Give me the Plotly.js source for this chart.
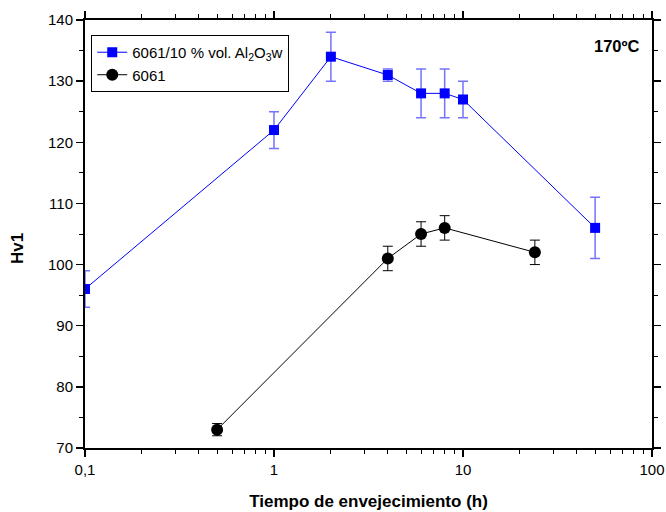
<!DOCTYPE html>
<html>
<head>
<meta charset="utf-8">
<script src="https://cdn.plot.ly/plotly-3.0.1.min.js"></script>
<style>
  html, body { margin: 0; padding: 0; background: #fff; }
  #chart { width: 666px; height: 512px; }
</style>
</head>
<body>
<div id="chart"></div>
<script>
// Aging time (h) and Vickers hardness for the composite and the base alloy
const compositeName = '6061/10 % vol. Al<sub>2</sub>O<sub>3</sub>w';
const compositeTime = [0.1, 1, 2, 4, 6, 8, 10, 50];
const compositeHv   = [96, 122, 134, 131, 128, 128, 127, 106];
const compositeErr  = [3, 3, 4, 1, 4, 4, 3, 5];

const alloyName = '6061';
const alloyTime = [0.5, 4, 6, 8, 24];
const alloyHv   = [73, 101, 105, 106, 102];
const alloyErr  = [1, 2, 2, 2, 2];

const xTickVals = [0.1, 1, 10, 100];
const xTickText = ['0,1', '1', '10', '100'];
const xMinorVals = [0.2, 0.3, 0.4, 0.5, 0.6, 0.7, 0.8, 0.9,
                    2, 3, 4, 5, 6, 7, 8, 9,
                    20, 30, 40, 50, 60, 70, 80, 90];
const yTickVals = [70, 80, 90, 100, 110, 120, 130, 140];

const FONT = 'Arial, "Liberation Sans", sans-serif';

const traces = [
  {
    name: compositeName,
    x: compositeTime, y: compositeHv,
    type: 'scatter', mode: 'lines+markers',
    line: { color: '#0000ff', width: 1 },
    marker: { symbol: 'square', size: 10, color: '#0000ff' },
    error_y: { type: 'data', array: compositeErr, visible: true,
               color: 'rgba(40,40,255,0.65)', thickness: 1.5, width: 5 }
  },
  {
    name: alloyName,
    x: alloyTime, y: alloyHv,
    type: 'scatter', mode: 'lines+markers',
    line: { color: '#000000', width: 1 },
    marker: { symbol: 'circle', size: 12, color: '#000000' },
    error_y: { type: 'data', array: alloyErr, visible: true,
               color: '#000000', thickness: 1, width: 5 }
  }
];

const layout = {
  width: 666, height: 512,
  margin: { l: 85, r: 14, t: 20, b: 64 },
  paper_bgcolor: '#ffffff', plot_bgcolor: '#ffffff',
  font: { family: FONT, size: 15, color: '#000' },
  showlegend: true,
  legend: {
    x: 0.011, y: 0.965, xanchor: 'left', yanchor: 'top',
    bgcolor: '#ffffff', bordercolor: '#000', borderwidth: 1,
    font: { family: FONT, size: 15, color: '#000' },
    tracegroupgap: 0
  },
  xaxis: {
    type: 'log', range: [-1, 2],
    tickmode: 'array', tickvals: xTickVals, ticktext: xTickText,
    ticks: 'outside', ticklen: 7, tickwidth: 1.5, tickcolor: '#000',
    minor: { tickvals: xMinorVals, ticks: 'outside', ticklen: 4, tickwidth: 1, tickcolor: '#000', showgrid: false },
    showline: true, linewidth: 2, linecolor: '#000', mirror: 'allticks',
    showgrid: false, zeroline: false,
    tickfont: { family: FONT, size: 15 },
    title: { text: '<b>Tiempo de envejecimiento (h)</b>', font: { family: FONT, size: 17 }, standoff: 18 }
  },
  yaxis: {
    range: [70, 140],
    tickmode: 'array', tickvals: yTickVals,
    ticks: 'outside', ticklen: 7, tickwidth: 1.5, tickcolor: '#000',
    minor: { dtick: 5, ticks: 'outside', ticklen: 4, tickwidth: 1, tickcolor: '#000', showgrid: false },
    showline: true, linewidth: 2, linecolor: '#000', mirror: 'allticks',
    showgrid: false, zeroline: false,
    tickfont: { family: FONT, size: 15 }
  },
  annotations: [
    {
      // y-axis title, placed a little below the plot's mid-height
      text: '<b>Hv1</b>', xref: 'paper', yref: 'paper',
      x: -0.12, y: 0.467, xanchor: 'center', yanchor: 'middle',
      textangle: -90, showarrow: false,
      font: { family: FONT, size: 17, color: '#000' }
    },
    {
      text: '<b>170ºC</b>', xref: 'paper', yref: 'paper',
      x: 0.982, y: 0.94, xanchor: 'right', yanchor: 'middle',
      showarrow: false, font: { family: FONT, size: 16.5, color: '#000' }
    }
  ]
};

Plotly.newPlot('chart', traces, layout, { displayModeBar: false, staticPlot: true });
</script>
</body>
</html>
